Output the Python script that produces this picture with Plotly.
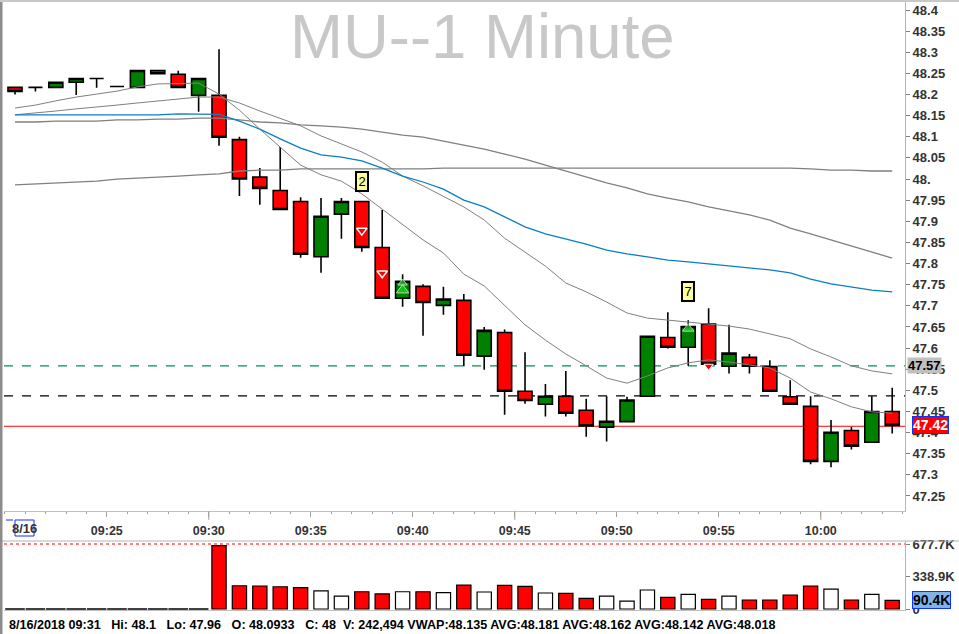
import plotly.graph_objects as go

# ---------------- data ----------------
times = ["09:20", "09:21", "09:22", "09:23", "09:24", "09:25", "09:26", "09:27", "09:28", "09:29",
         "09:30", "09:31", "09:32", "09:33", "09:34", "09:35", "09:36", "09:37", "09:38", "09:39",
         "09:40", "09:41", "09:42", "09:43", "09:44", "09:45", "09:46", "09:47", "09:48", "09:49",
         "09:50", "09:51", "09:52", "09:53", "09:54", "09:55", "09:56", "09:57", "09:58", "09:59",
         "10:00", "10:01", "10:02", "10:03"]

opens = [48.217, 48.217, 48.217, 48.229, 48.238, 48.219, 48.217, 48.257, 48.248, 48.198,
         48.198, 48.0933, 48.005, 47.973, 47.947, 47.816, 47.917, 47.947, 47.838, 47.718,
         47.746, 47.701, 47.713, 47.581, 47.637, 47.498, 47.467, 47.486, 47.453, 47.413,
         47.426, 47.486, 47.625, 47.602, 47.657, 47.557, 47.578, 47.556, 47.485, 47.462,
         47.332, 47.405, 47.377, 47.450]
highs = [48.217, 48.217, 48.229, 48.238, 48.238, 48.219, 48.257, 48.257, 48.256, 48.238,
         48.307, 48.1, 48.026, 48.076, 47.957, 47.955, 47.955, 47.947, 47.927, 47.775,
         47.751, 47.745, 47.728, 47.650, 47.644, 47.590, 47.515, 47.546, 47.480, 47.486,
         47.485, 47.628, 47.685, 47.666, 47.694, 47.655, 47.586, 47.571, 47.524, 47.486,
         47.430, 47.414, 47.486, 47.506]
lows = [48.200, 48.207, 48.217, 48.199, 48.216, 48.219, 48.217, 48.249, 48.217, 48.159,
        48.079, 47.96, 47.939, 47.928, 47.814, 47.778, 47.859, 47.828, 47.718, 47.698,
        47.629, 47.679, 47.557, 47.549, 47.442, 47.468, 47.438, 47.438, 47.390, 47.379,
        47.426, 47.486, 47.599, 47.558, 47.553, 47.540, 47.540, 47.498, 47.467, 47.325,
        47.318, 47.360, 47.377, 47.398]
closes = [48.207, 48.217, 48.229, 48.238, 48.238, 48.219, 48.257, 48.249, 48.217, 48.238,
          48.099, 48.0, 47.978, 47.928, 47.822, 47.912, 47.947, 47.838, 47.718, 47.758,
          47.708, 47.716, 47.583, 47.642, 47.498, 47.476, 47.486, 47.446, 47.416, 47.427,
          47.477, 47.628, 47.602, 47.651, 47.562, 47.588, 47.557, 47.498, 47.467, 47.332,
          47.401, 47.368, 47.450, 47.417]
volumes = [0, 0, 0, 0, 0, 0, 0, 0, 0, 0,
           660000, 242494, 240000, 232000, 222000, 189000, 135000, 180000, 157000, 180000,
           180000, 170000, 248000, 177000, 247000, 236000, 167000, 163000, 111000, 135000,
           83000, 198000, 122000, 153000, 101000, 135000, 94000, 94000, 146000, 240000,
           208000, 94000, 153000, 90400]

ma_fast = [48.168, 48.175, 48.185, 48.194, 48.201, 48.208, 48.218, 48.225, 48.226, 48.227,
           48.201, 48.163, 48.118, 48.076, 48.033, 48.010, 47.995, 47.965, 47.929, 47.894,
           47.856, 47.825, 47.775, 47.747, 47.700, 47.655, 47.619, 47.586, 47.558, 47.529,
           47.517, 47.534, 47.553, 47.565, 47.572, 47.567, 47.560, 47.553, 47.529, 47.496,
           47.480, 47.461, 47.449, 47.446]
ma_mid = [48.152, 48.156, 48.161, 48.166, 48.170, 48.175, 48.180, 48.185, 48.189, 48.194,
          48.194, 48.180, 48.161, 48.144, 48.126, 48.102, 48.083, 48.064, 48.040, 48.007,
          47.984, 47.958, 47.934, 47.903, 47.860, 47.827, 47.794, 47.754, 47.733, 47.709,
          47.683, 47.671, 47.666, 47.662, 47.657, 47.652, 47.645, 47.633, 47.622, 47.598,
          47.579, 47.558, 47.546, 47.539]
ma_blue = [48.152, 48.152, 48.152, 48.152, 48.152, 48.152, 48.152, 48.152, 48.154, 48.154,
           48.153, 48.137, 48.118, 48.095, 48.073, 48.057, 48.052, 48.043, 48.026, 48.007,
           47.993, 47.976, 47.950, 47.934, 47.910, 47.887, 47.870, 47.858, 47.846, 47.832,
           47.823, 47.816, 47.808, 47.804, 47.799, 47.794, 47.789, 47.785, 47.778, 47.763,
           47.752, 47.745, 47.737, 47.733]
ma_long = [48.135, 48.135, 48.137, 48.137, 48.137, 48.140, 48.140, 48.142, 48.142, 48.144,
           48.144, 48.140, 48.135, 48.133, 48.128, 48.126, 48.123, 48.118, 48.111, 48.104,
           48.099, 48.090, 48.081, 48.071, 48.059, 48.047, 48.033, 48.019, 48.005, 47.991,
           47.979, 47.965, 47.955, 47.946, 47.934, 47.924, 47.915, 47.903, 47.884, 47.870,
           47.856, 47.842, 47.827, 47.813]
ma_slow = [47.986, 47.988, 47.991, 47.993, 47.995, 48.000, 48.002, 48.005, 48.007, 48.010,
           48.012, 48.019, 48.021, 48.021, 48.024, 48.024, 48.024, 48.024, 48.024, 48.024,
           48.024, 48.026, 48.026, 48.026, 48.026, 48.026, 48.026, 48.026, 48.026, 48.026,
           48.026, 48.026, 48.026, 48.026, 48.026, 48.026, 48.026, 48.026, 48.026, 48.024,
           48.021, 48.021, 48.019, 48.019]

price_ticks = ["47.25", "47.3", "47.35", "47.4", "47.45", "47.5", "47.55", "47.6", "47.65",
               "47.7", "47.75", "47.8", "47.85", "47.9", "47.95", "48.", "48.05", "48.1",
               "48.15", "48.2", "48.25", "48.3", "48.35", "48.4"]
time_ticks = ["09:25", "09:30", "09:35", "09:40", "09:45", "09:50", "09:55", "10:00"]
long_ticks = ["09:30", "09:45", "10:00"]
vol_ticks = [0, 338900, 677700]
vol_tick_text = ["0", "338.9K", "677.7K"]
vol_max = 677700

level_green = 47.558
level_black = 47.487
level_red = 47.415
level_green_text = "47.57"

signal_boxes = [("09:37", 47.994, "2"), ("09:53", 47.734, "7")]
sell_marks_t = ["09:37", "09:38"]
sell_marks_p = [47.878, 47.777]
buy_marks_t = ["09:39", "09:39", "09:53"]
buy_marks_p = [47.754, 47.737, 47.646]
red_marks_t = ["09:54"]
red_marks_p = [47.557]

info_text = ("8/16/2018 09:31\u00a0\u00a0 Hi: 48.1\u00a0\u00a0 Lo: 47.96\u00a0\u00a0 O: 48.0933\u00a0\u00a0 C: 48\u00a0 "
             "V: 242,494 VWAP:48.135 AVG:48.181 AVG:48.162 AVG:48.142 AVG:48.018")
date_label = "8/16"
title_text = "MU--1 Minute"


def tmin(s):
    h, m = s.split(":")
    return (int(h) - 9) * 60 + int(m)


xs = [tmin(t) + 0.5 for t in times]

# ---------------- geometry ----------------
W, H = 959, 634
ML, MR, MT, MB = 4, 54, 2, 24
PW, PH = W - ML - MR, H - MT - MB
X0, X1 = 19.96, 19.96 + PW / 20.4
price_dom = [(H - MB - 511) / PH, 1.0]
vol_dom = [0.0, (H - MB - 541) / PH]


def px(xp):
    return (xp - ML) / PW


def py(yp):
    return (H - MB - yp) / PH


fig = go.Figure()

ma_styles = [(ma_slow, "#808080", 1.3), (ma_long, "#808080", 1.3), (ma_mid, "#808080", 1.0),
             (ma_blue, "#0a7fc4", 1.3), (ma_fast, "#808080", 1.0)]
for vals, col, w in ma_styles:
    fig.add_trace(go.Scatter(x=xs, y=vals, mode="lines", line=dict(color=col, width=w),
                             hoverinfo="skip", xaxis="x", yaxis="y"))

fig.add_trace(go.Candlestick(
    x=xs, open=opens, high=highs, low=lows, close=closes,
    increasing=dict(line=dict(color="black", width=1.6), fillcolor="#008000"),
    decreasing=dict(line=dict(color="black", width=1.6), fillcolor="#ff0000"),
    whiskerwidth=0, xaxis="x", yaxis="y"))

fig.add_trace(go.Scatter(x=[tmin(t) + 0.5 for t in sell_marks_t], y=sell_marks_p, mode="markers",
                         marker=dict(symbol="triangle-down-open", size=9, color="white",
                                     line=dict(color="white", width=1.5)),
                         xaxis="x", yaxis="y", hoverinfo="skip"))
fig.add_trace(go.Scatter(x=[tmin(t) + 0.5 for t in buy_marks_t], y=buy_marks_p, mode="markers",
                         marker=dict(symbol="triangle-up", size=[8, 11, 10], color="#22dd22",
                                     line=dict(color="white", width=1)),
                         xaxis="x", yaxis="y", hoverinfo="skip"))
fig.add_trace(go.Scatter(x=[tmin(t) + 0.5 for t in red_marks_t], y=red_marks_p, mode="markers",
                         marker=dict(symbol="triangle-down", size=8, color="#ff0000",
                                     line=dict(color="white", width=1)),
                         xaxis="x", yaxis="y", hoverinfo="skip"))

# volume
vol_colors = ["white" if c > o else "#ff0000" for o, c in zip(opens, closes)]
vx = [x for x, v in zip(xs, volumes) if v > 0]
vv = [v for v in volumes if v > 0]
vc = [c for c, v in zip(vol_colors, volumes) if v > 0]
fig.add_trace(go.Bar(x=vx, y=vv, width=0.7, marker=dict(color=vc, line=dict(color="black", width=1.2)),
                     xaxis="x2", yaxis="y2", hoverinfo="skip"))
fig.add_trace(go.Scatter(x=[x for x, v in zip(xs, volumes) if v == 0],
                         y=[v for v in volumes if v == 0], mode="markers",
                         marker=dict(symbol="line-ew", size=14, line=dict(color="black", width=1.5)),
                         xaxis="x2", yaxis="y2", hoverinfo="skip", cliponaxis=False))

# price label arrows (outside plot)
fig.add_trace(go.Scatter(x=[X1 + 0.35], y=[closes[-1]], mode="markers", cliponaxis=False,
                         marker=dict(symbol="triangle-left", size=13, color="#ff0000",
                                     line=dict(color="#1030ff", width=1)),
                         xaxis="x", yaxis="y", hoverinfo="skip"))
fig.add_trace(go.Scatter(x=[X1 + 0.35], y=[volumes[-1]], mode="markers", cliponaxis=False,
                         marker=dict(symbol="triangle-left", size=13, color="#80b4e6",
                                     line=dict(color="#1030ff", width=1)),
                         xaxis="x2", yaxis="y2", hoverinfo="skip"))

tickfont = dict(family="Liberation Sans, Arial", size=13, color="#333333", weight="bold")

shapes = []
for val, col, dash, w in [(level_green, "#00905a", "dash", 1.2), (level_black, "black", "dash", 1.2),
                          (level_red, "#ff0000", "solid", 1.2)]:
    shapes.append(dict(type="line", xref="paper", x0=0, x1=1, yref="y", y0=val, y1=val,
                       line=dict(color=col, width=w, dash=dash), layer="below"))
shapes.append(dict(type="line", xref="paper", x0=0, x1=1, yref="y2", y0=vol_max, y1=vol_max,
                   line=dict(color="#ff0000", width=1, dash="dot")))
for t in long_ticks:
    shapes.append(dict(type="line", xref="x", x0=tmin(t), x1=tmin(t), yref="paper",
                       y0=price_dom[0], y1=py(520), line=dict(color="#a0a0a0", width=1)))
# frame lines
shapes.append(dict(type="line", xref="paper", x0=px(0), x1=px(959), yref="paper", y0=py(541), y1=py(541),
                   line=dict(color="#b4b4b4", width=1)))
shapes.append(dict(type="line", xref="paper", x0=px(1), x1=px(1), yref="paper", y0=py(634), y1=py(0),
                   line=dict(color="#8c8c8c", width=3)))
shapes.append(dict(type="line", xref="paper", x0=px(0), x1=px(959), yref="paper", y0=py(1), y1=py(1),
                   line=dict(color="#c8c8c8", width=2)))
# date highlight box
shapes.append(dict(type="rect", xref="paper", x0=px(15), x1=px(34), yref="paper", y0=py(520), y1=py(536),
                   line=dict(color="#1030ff", width=1)))
shapes.append(dict(type="line", xref="paper", x0=px(6), x1=px(13), yref="paper", y0=py(520), y1=py(520),
                   line=dict(color="#1030ff", width=1)))

annotations = [
    dict(text=title_text, xref="paper", yref="paper", x=px(482), y=py(36), xanchor="center", yanchor="middle",
         showarrow=False, font=dict(family="Liberation Sans, Arial", size=63.5, color="#c8c8c8")),
    dict(text=info_text, xref="paper", yref="paper", x=px(7), y=py(625), xanchor="left", yanchor="middle",
         showarrow=False, font=dict(family="Liberation Sans, Arial", size=12.6, color="black", weight="bold")),
    dict(text=date_label, xref="paper", yref="paper", x=px(24.5), y=py(528), xanchor="center", yanchor="middle",
         showarrow=False, font=tickfont),
    dict(text=level_green_text, xref="paper", yref="y", x=px(907), y=level_green, xanchor="left",
         yanchor="middle", showarrow=False, bgcolor="#c0c0c0", borderpad=0,
         font=dict(family="Liberation Sans, Arial", size=13, color="black", weight="bold")),
    dict(text=f"{closes[-1]:.2f}", xref="paper", yref="y", x=px(912), y=closes[-1], xanchor="left",
         yanchor="middle", showarrow=False, bgcolor="#ff0000", bordercolor="#1030ff", borderwidth=1,
         borderpad=0, font=dict(family="Liberation Sans, Arial", size=14, color="white", weight="bold")),
    dict(text=f"{volumes[-1] / 1000:.1f}K", xref="paper", yref="y2", x=px(912), y=volumes[-1],
         xanchor="left", yanchor="middle", showarrow=False, bgcolor="#80b4e6", bordercolor="#1030ff",
         borderwidth=1, borderpad=0,
         font=dict(family="Liberation Sans, Arial", size=14, color="black", weight="bold")),
]
for t, p, txt in signal_boxes:
    annotations.append(dict(text=txt, xref="x", yref="y", x=tmin(t) + 0.5, y=p, showarrow=False,
                            bgcolor="#ffff99", bordercolor="black", borderwidth=2, borderpad=0,
                            width=10, height=17,
                            font=dict(family="Liberation Sans, Arial", size=13, color="black")))

fig.update_layout(
    width=W, height=H, margin=dict(l=ML, r=MR, t=MT, b=MB),
    plot_bgcolor="white", paper_bgcolor="white", showlegend=False,
    boxgap=0.31, boxgroupgap=0,
    xaxis=dict(domain=[0, 1], range=[X0, X1], anchor="y",
               tickvals=[tmin(t) for t in time_ticks], ticktext=time_ticks,
               ticks="outside", ticklen=5, tickcolor="#a0a0a0", showline=True, linecolor="#c0c0c0",
               showgrid=False, zeroline=False, ticklabelstandoff=3,
               tickfont=dict(family="Liberation Sans, Arial", size=12.5, color="#333333", weight="bold"),
               minor=dict(ticks="outside", ticklen=2, dtick=1, tick0=0, tickcolor="#a0a0a0", showgrid=False),
               rangeslider=dict(visible=False), fixedrange=True, automargin=False),
    xaxis2=dict(domain=[0, 1], range=[X0, X1], anchor="y2", matches="x", showticklabels=False,
                showline=True, linecolor="#c0c0c0", showgrid=False, zeroline=False, ticks="",
                automargin=False),
    yaxis=dict(domain=price_dom, range=[48.4 - 501 / 422.6, 48.4 + 8 / 422.6], side="right", anchor="x",
               tickvals=[float(s) for s in price_ticks], ticktext=price_ticks, ticks="outside", ticklen=4,
               tickcolor="#808080", showline=True, linecolor="#b4b4b4", showgrid=False, zeroline=False,
               tickfont=tickfont, automargin=False),
    yaxis2=dict(domain=vol_dom, range=[-10430, 709000], side="right", anchor="x2",
                tickvals=vol_ticks, ticktext=vol_tick_text, ticks="outside", ticklen=4,
                tickcolor="#808080", showline=True, linecolor="#b4b4b4", showgrid=False, zeroline=False,
                tickfont=tickfont, automargin=False),
    shapes=shapes, annotations=annotations,
)

fig.write_html("out.html", config={"displayModeBar": False},
               post_script="document.body.style.margin='0px';document.body.style.overflow='hidden';")
